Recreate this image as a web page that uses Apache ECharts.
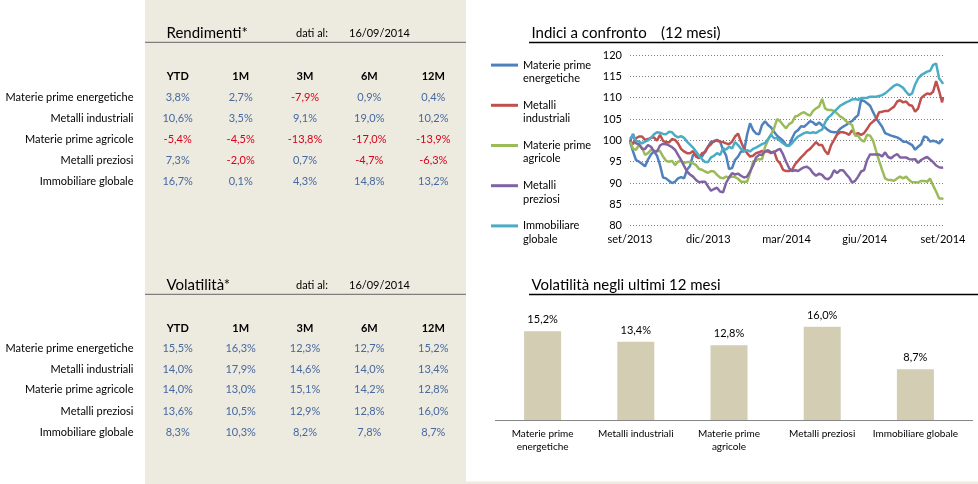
<!DOCTYPE html>
<html>
<head>
<meta charset="utf-8">
<script src="https://cdn.jsdelivr.net/npm/echarts@6/dist/echarts.min.js"></script>
<style>
html,body{margin:0;padding:0;background:#fff;}
#c{width:978px;height:484px;}
</style>
</head>
<body>
<div id="c"></div>
<script>
// ---- data ----
const rowLabels = ['Materie prime energetiche','Metalli industriali','Materie prime agricole','Metalli preziosi','Immobiliare globale'];
const periods = ['YTD','1M','3M','6M','12M'];
const rendimenti = [
  [3.8, 2.7, -7.9, 0.9, 0.4],
  [10.6, 3.5, 9.1, 19.0, 10.2],
  [-5.4, -4.5, -13.8, -17.0, -13.9],
  [7.3, -2.0, 0.7, -4.7, -6.3],
  [16.7, 0.1, 4.3, 14.8, 13.2]
];
const volatilita = [
  [15.5, 16.3, 12.3, 12.7, 15.2],
  [14.0, 17.9, 14.6, 14.0, 13.4],
  [14.0, 13.0, 15.1, 14.2, 12.8],
  [13.6, 10.5, 12.9, 12.8, 16.0],
  [8.3, 10.3, 8.2, 7.8, 8.7]
];
const dataDate = '16/09/2014';

// line chart: days since 16/09/2013
const days = [0,3.5,7,10.5,14,17.5,21,24.5,28,31.5,35,38.5,42,45.5,49,52.5,56,59.5,63,66.5,70,73.5,77,80.5,84,87.5,91,94.5,98,101.5,105,108.5,112,115.5,119,122.5,126,129.5,133,136.5,140,143.5,147,150.5,154,157.5,161,164.5,168,171.5,175,178.5,182,185.5,189,192.5,196,199.5,203,206.5,210,213.5,217,220.5,224,227.5,231,234.5,238,241.5,245,248.5,252,255.5,259,262.5,266,269.5,273,276.5,280,283.5,287,290.5,294,297.5,301,304.5,308,311.5,315,318.5,322,325.5,329,332.5,336,339.5,343,346.5,350,353.5,357,360.5,364,365];
const energetiche = [99.7,97.4,95.4,95.0,94.5,93.9,95.5,96.7,97.4,96.4,94.2,91.3,91.1,90.5,90.0,90.3,91.1,91.4,91.1,93.1,94.0,96.6,96.6,96.2,96.2,97.4,98.5,99.7,99.7,100.1,99.7,97.8,96.5,93.3,93.5,95.4,96.2,97.4,97.4,101.3,104.0,102.4,101.6,101.4,103.6,104.5,103.6,103.0,102.0,101.1,100.5,99.9,98.9,98.7,100.5,101.9,102.4,103.3,103.2,103.8,104.5,104.2,103.6,104.2,103.5,103.0,102.4,102.0,101.9,101.9,102.7,103.2,103.6,104.2,104.5,105.3,105.9,109.5,109.2,108.7,108.1,106.6,105.2,104.2,103.2,101.7,101.4,101.1,100.9,100.7,100.3,99.7,99.7,99.3,98.9,97.8,98.5,99.1,100.9,100.7,99.7,99.9,99.7,99.3,100.1,100.4];
const industriali = [100.0,99.1,100.5,100.9,100.9,100.1,100.3,100.6,100.7,99.9,101.3,99.9,99.6,99.5,100.3,100.1,99.3,98.0,97.4,97.0,97.0,97.5,96.2,95.8,97.0,97.2,98.5,99.1,99.9,99.9,99.7,99.6,99.3,99.1,99.7,100.9,101.6,99.6,98.1,97.0,96.2,96.4,97.0,97.2,97.5,97.4,97.4,97.0,97.4,95.4,94.6,93.1,92.8,92.8,93.1,94.4,95.2,96.0,96.7,97.5,98.0,98.8,99.6,98.9,98.9,97.5,96.7,98.9,100.1,101.4,101.9,101.9,101.7,101.3,102.4,101.4,101.7,101.3,101.7,102.7,103.8,104.4,105.0,106.6,106.7,106.9,106.9,107.4,107.9,109.1,109.4,108.9,109.1,108.3,108.1,106.7,107.5,109.9,110.5,111.0,110.8,111.4,113.9,111.5,108.9,110.2];
const agricole = [100.0,98.0,97.8,98.9,98.3,96.6,97.0,97.8,97.5,97.5,97.5,96.2,95.2,95.0,95.2,94.2,95.0,95.2,94.7,94.9,94.9,94.6,94.2,93.3,93.1,92.7,92.4,92.8,92.7,91.9,91.3,91.1,91.5,91.3,91.5,91.4,91.0,90.3,90.3,90.3,92.3,95.0,95.4,95.6,95.6,98.5,100.1,101.4,102.8,105.0,104.5,103.6,102.8,103.8,104.2,105.6,105.8,106.3,106.6,106.1,105.8,106.9,107.5,107.9,109.7,107.5,107.1,107.1,106.9,106.3,105.6,105.2,104.5,104.0,103.6,101.1,101.1,100.1,99.7,101.3,101.1,99.9,97.5,95.2,93.1,91.1,90.7,90.7,90.5,91.1,91.5,91.1,91.5,90.7,90.2,90.2,90.1,90.5,90.5,90.3,91.0,89.4,88.0,86.4,86.4,86.1];
const preziosi = [99.7,101.5,99.3,99.1,98.0,98.0,98.9,98.5,97.4,97.4,98.8,99.2,99.1,98.8,98.4,97.8,96.6,95.4,94.0,92.7,92.0,91.5,90.7,90.2,90.3,90.3,89.2,88.2,88.6,88.9,88.0,87.8,90.0,91.3,92.3,92.0,92.2,91.7,91.3,91.5,92.7,94.1,96.0,96.6,96.6,97.4,97.7,97.2,97.2,97.7,98.0,96.7,95.0,93.5,92.8,93.0,92.8,93.3,93.7,93.8,93.3,92.3,91.7,92.2,91.9,91.1,90.9,91.5,93.0,92.3,93.0,93.0,92.1,91.3,90.1,90.5,91.5,92.7,93.0,95.4,96.7,96.7,96.7,96.7,96.2,97.2,96.1,95.8,96.4,96.8,96.0,96.0,96.0,95.6,95.5,95.6,94.7,95.4,95.8,96.1,95.5,94.9,94.1,93.7,93.6,93.7];
const globale = [100.3,101.3,99.9,99.7,99.3,99.7,100.0,100.6,101.4,101.9,101.8,101.5,101.4,102.0,101.9,101.1,100.7,101.0,100.6,99.7,99.0,98.3,97.4,96.4,95.6,94.9,94.9,96.0,96.4,97.0,96.6,98.1,97.8,98.5,98.1,99.6,98.9,98.0,97.5,97.7,97.4,98.0,98.3,98.7,99.1,99.4,100.3,101.3,100.5,100.5,99.9,99.3,98.8,98.7,99.3,100.2,100.9,101.3,101.7,101.9,101.7,101.9,101.7,102.2,102.5,104.2,105.3,105.9,106.7,107.4,108.1,108.5,108.9,109.2,109.6,109.7,109.5,109.9,109.9,110.0,110.2,110.2,110.2,110.4,110.6,111.0,111.6,112.2,112.8,113.1,112.8,112.3,111.4,110.6,111.0,113.1,114.5,115.3,115.7,116.1,116.3,117.7,118.0,114.5,113.6,113.2];
const xTickLabels = ['set/2013','dic/2013','mar/2014','giu/2014','set/2014'];
const legendLabels = ['Materie prime\nenergetiche','Metalli\nindustriali','Materie prime\nagricole','Metalli\npreziosi','Immobiliare\nglobale'];

// bar chart
const barCategories = ['Materie prime\nenergetiche','Metalli industriali','Materie prime\nagricole','Metalli preziosi','Immobiliare globale'];
const barValues = [15.2, 13.4, 12.8, 16.0, 8.7];

// ---- styling ----
const FONT = 'Lato, "Open Sans", sans-serif';
const seriesColors = ['#4F81BD','#C0504D','#9BBB59','#8064A2','#4BACC6'];
const BLUE = '#46699F', RED = '#D9001A', BEIGE = '#EDEAE0';
const fmtPct = v => v.toFixed(1).replace('.', ',') + '%';

const colX = [177.7, 240.7, 305, 369.3, 433.3];
const labelRight = 133.5;

function tableElements(title, values, titleY, headerY, rowY, colorBySign) {
  const els = [];
  els.push({type:'text', x:166.5, y:titleY, style:{text:title, font:'15px ' + FONT, fill:'#000', align:'left', verticalAlign:'middle'}});
  els.push({type:'text', x:296, y:titleY, style:{text:'dati al:', font:'11px ' + FONT, fill:'#000', align:'left', verticalAlign:'middle'}});
  els.push({type:'text', x:349, y:titleY, style:{text:dataDate, font:'11px ' + FONT, fill:'#000', align:'left', verticalAlign:'middle'}});
  els.push({type:'line', shape:{x1:145, y1:titleY + 9.3, x2:466, y2:titleY + 9.3}, style:{stroke:'#7F7F7F', lineWidth:1.3}});
  periods.forEach((p, j) => {
    els.push({type:'text', x:colX[j], y:headerY, style:{text:p, font:'bold 11px ' + FONT, fill:'#000', align:'center', verticalAlign:'middle'}});
  });
  rowLabels.forEach((lab, i) => {
    els.push({type:'text', x:labelRight, y:rowY[i], style:{text:lab, font:'11px ' + FONT, fill:'#000', align:'right', verticalAlign:'middle'}});
    values[i].forEach((v, j) => {
      els.push({type:'text', x:colX[j], y:rowY[i], style:{text:fmtPct(v), font:'11px ' + FONT, fill:(colorBySign && v < 0) ? RED : BLUE, align:'center', verticalAlign:'middle'}});
    });
  });
  return els;
}

const graphicEls = [
  {type:'rect', z:-10, shape:{x:145, y:0, width:321, height:484}, style:{fill:BEIGE}},
  {type:'rect', z:-10, shape:{x:466, y:481.5, width:512, height:3}, style:{fill:BEIGE}},
  {type:'text', x:531.5, y:33.3, style:{text:'Indici a confronto', font:'15px ' + FONT, fill:'#000', align:'left', verticalAlign:'middle'}},
  {type:'text', x:661, y:33.3, style:{text:'(12 mesi)', font:'15px ' + FONT, fill:'#000', align:'left', verticalAlign:'middle'}},
  {type:'line', shape:{x1:529, y1:42.5, x2:978, y2:42.5}, style:{stroke:'#000', lineWidth:1.3}},
  {type:'text', x:531.5, y:285, style:{text:'Volatilità negli ultimi 12 mesi', font:'15px ' + FONT, fill:'#000', align:'left', verticalAlign:'middle'}},
  {type:'line', shape:{x1:529, y1:294.5, x2:978, y2:294.5}, style:{stroke:'#000', lineWidth:1.3}},
  {type:'line', shape:{x1:495, y1:420.5, x2:973, y2:420.5}, style:{stroke:'#868686', lineWidth:1}}
].concat(
  tableElements('Rendimenti*', rendimenti, 33, 76, [97.7,118.3,139.3,160.3,181.7], true),
  tableElements('Volatilità*', volatilita, 285, 328.3, [348.3,369,389.7,411,432.3], false)
);

const lineSeriesData = [energetiche, industriali, agricole, preziosi, globale];

const chart = echarts.init(document.getElementById('c'), null, {renderer:'canvas'});
chart.setOption({
  animation: false,
  textStyle: {fontFamily: FONT},
  color: seriesColors,
  graphic: {elements: graphicEls},
  legend: {
    orient: 'vertical',
    left: 486, top: 40,
    itemWidth: 27, itemHeight: 3, itemGap: 0,
    icon: 'rect',
    data: rowLabels,
    formatter: name => '\n' + legendLabels[rowLabels.indexOf(name)],
    textStyle: {fontSize: 11, lineHeight: 13.4, color: '#000', fontFamily: FONT}
  },
  grid: [
    {left: 630, top: 55, width: 313, height: 170.7},
    {left: 496, top: 315, width: 466, height: 105}
  ],
  xAxis: [
    {
      type: 'value', gridIndex: 0, min: 0, max: 365, interval: 91.25,
      axisLine: {show: false}, axisTick: {show: false}, splitLine: {show: false},
      axisLabel: {
        formatter: v => xTickLabels[Math.round(v / 91.25)] || '',
        fontSize: 11, color: '#000', margin: 8, showMaxLabel: true, showMinLabel: true
      }
    },
    {
      type: 'category', gridIndex: 1, data: barCategories,
      axisLine: {show: false}, axisTick: {show: false},
      axisLabel: {interval: 0, fontSize: 10, lineHeight: 13.4, color: '#000', margin: 7}
    }
  ],
  yAxis: [
    {
      type: 'value', gridIndex: 0, min: 80, max: 120, interval: 5,
      axisLine: {show: false}, axisTick: {show: false},
      axisLabel: {fontSize: 11, color: '#000', margin: 8},
      splitLine: {show: true, lineStyle: {type: [1, 2], color: '#7F7F7F', width: 1}}
    },
    {
      type: 'value', gridIndex: 1, min: 0, max: 18, show: false, splitLine: {show: false}
    }
  ],
  series: rowLabels.map((name, k) => ({
    name: name,
    type: 'line',
    xAxisIndex: 0, yAxisIndex: 0,
    showSymbol: false,
    symbol: 'none',
    lineStyle: {width: 2.5, color: seriesColors[k]},
    itemStyle: {color: seriesColors[k]},
    data: days.map((d, i) => [d, lineSeriesData[k][i]])
  })).concat([{
    name: 'Volatilità 12M',
    type: 'bar',
    xAxisIndex: 1, yAxisIndex: 1,
    barWidth: 37,
    itemStyle: {color: '#D3CDB4'},
    label: {show: true, position: 'top', distance: 6, fontSize: 11, color: '#000', formatter: p => fmtPct(p.value)},
    data: barValues
  }])
});
</script>
</body>
</html>
